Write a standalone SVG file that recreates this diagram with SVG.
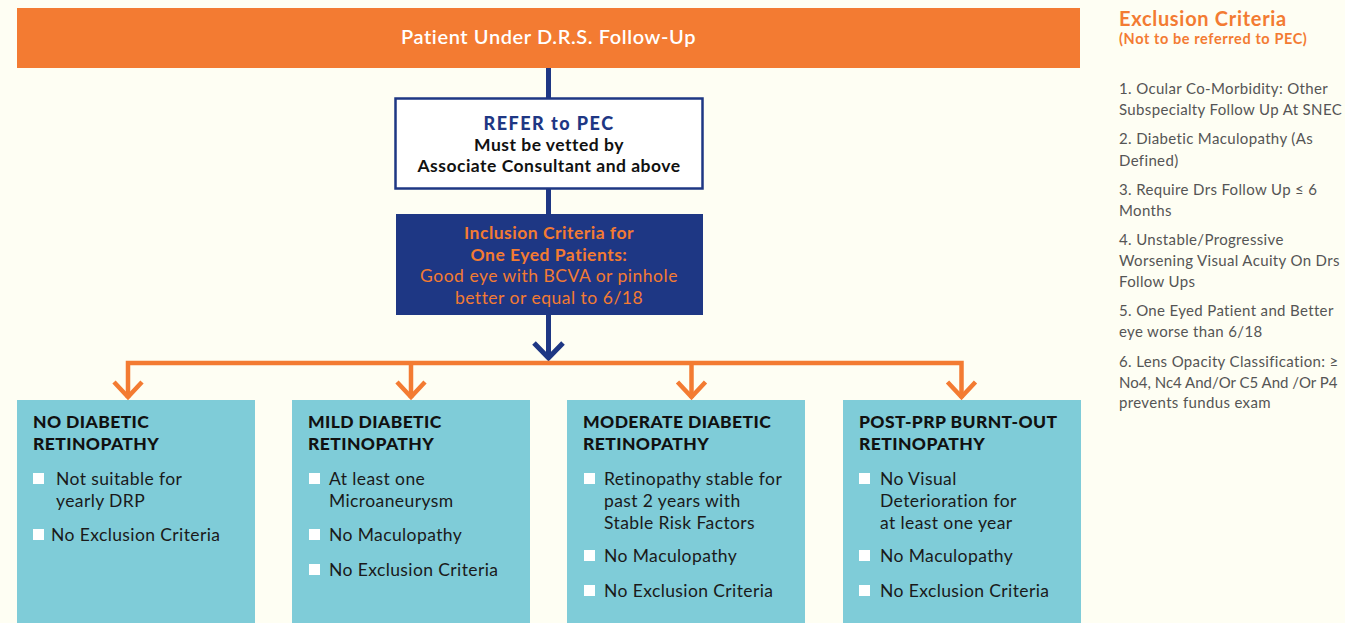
<svg xmlns="http://www.w3.org/2000/svg" width="1345" height="623" viewBox="0 0 1345 623">
<style>
text{font-family:Lato,"Open Sans","Liberation Sans",sans-serif;}
.hdr{fill:#fff;font-size:20px;font-weight:600;letter-spacing:0.6px;}
.refer{fill:#1E3784;font-size:18px;font-weight:900;letter-spacing:1.5px;}
.vet{fill:#111;font-size:17.5px;font-weight:700;letter-spacing:0.5px;}
.incb{fill:#F37B32;font-size:17.5px;font-weight:700;letter-spacing:0.5px;}
.inc{fill:#F37B32;font-size:17.5px;font-weight:400;letter-spacing:0.5px;}
.ttl{fill:#111;font-size:17.5px;font-weight:900;letter-spacing:0.4px;}
.itm{fill:#1a1a1a;font-size:17.5px;font-weight:400;letter-spacing:0.4px;}
.exh{fill:#F37B32;font-size:20px;font-weight:700;letter-spacing:0.7px;}
.exs{fill:#F37B32;font-size:14.5px;font-weight:700;letter-spacing:0.6px;}
.ex{fill:#555;font-size:15px;font-weight:400;letter-spacing:0.35px;}
.box{fill:#7FCCD8;}
.chk{fill:#fff;}
.ob{stroke:#F37B32;stroke-width:4.5;fill:none;}
.bl{stroke:#1E3784;stroke-width:5;fill:none;}
</style>
<rect width="1345" height="623" fill="#FEFEF3"/>
<g id="connectors">
<line class="bl" x1="548.5" y1="67" x2="548.5" y2="98"/>
<line class="bl" x1="548.5" y1="189" x2="548.5" y2="214"/>
<line class="bl" x1="548.5" y1="315" x2="548.5" y2="359"/>
<polyline class="bl" points="534,343 548.5,358 563,343"/>
<polyline class="ob" points="128,398 128,363 961.5,363 961.5,398"/>
<line class="ob" x1="411" y1="363" x2="411" y2="398"/>
<line class="ob" x1="691.5" y1="363" x2="691.5" y2="398"/>
<polyline class="ob" points="114,382 128,397 142,382"/>
<polyline class="ob" points="397,382 411,397 425,382"/>
<polyline class="ob" points="677.5,382 691.5,397 705.5,382"/>
<polyline class="ob" points="947.5,382 961.5,397 975.5,382"/>
</g>
<g id="top">
<rect x="17" y="8" width="1063" height="60" fill="#F37B32"/>
<text class="hdr" x="548.5" y="44" text-anchor="middle">Patient Under D.R.S. Follow-Up</text>
</g>
<g id="refer">
<rect x="395.5" y="98.5" width="307" height="90" fill="#fff" stroke="#1E3784" stroke-width="2.5"/>
<text class="refer" x="549" y="130" text-anchor="middle">REFER to PEC</text>
<text class="vet" x="549" y="151" text-anchor="middle">Must be vetted by</text>
<text class="vet" x="549" y="172" text-anchor="middle">Associate Consultant and above</text>
</g>
<g id="inclusion">
<rect x="396" y="214" width="307" height="101" fill="#1E3784"/>
<text class="incb" x="549" y="239" text-anchor="middle">Inclusion Criteria for</text>
<text class="incb" x="549" y="261" text-anchor="middle">One Eyed Patients:</text>
<text class="inc" x="549" y="282" text-anchor="middle">Good eye with BCVA or pinhole</text>
<text class="inc" x="549" y="304" text-anchor="middle">better or equal to 6/18</text>
</g>
<g id="no-dr">
<rect class="box" x="17" y="400" width="238" height="223"/>
<text class="ttl" x="33" y="428">NO DIABETIC</text>
<text class="ttl" x="33" y="450">RETINOPATHY</text>
<rect class="chk" x="33" y="473" width="11" height="11"/>
<text class="itm" x="56" y="485">Not suitable for</text>
<text class="itm" x="56" y="507">yearly DRP</text>
<rect class="chk" x="33" y="529" width="11" height="11"/>
<text class="itm" x="51" y="541">No Exclusion Criteria</text>
</g>
<g id="mild-dr">
<rect class="box" x="292" y="400" width="238" height="223"/>
<text class="ttl" x="308" y="428">MILD DIABETIC</text>
<text class="ttl" x="308" y="450">RETINOPATHY</text>
<rect class="chk" x="309" y="473" width="11" height="11"/>
<text class="itm" x="329" y="485">At least one</text>
<text class="itm" x="329" y="507">Microaneurysm</text>
<rect class="chk" x="309" y="529" width="11" height="11"/>
<text class="itm" x="329" y="541">No Maculopathy</text>
<rect class="chk" x="309" y="564" width="11" height="11"/>
<text class="itm" x="329" y="576">No Exclusion Criteria</text>
</g>
<g id="moderate-dr">
<rect class="box" x="567" y="400" width="238" height="223"/>
<text class="ttl" x="583" y="428">MODERATE DIABETIC</text>
<text class="ttl" x="583" y="450">RETINOPATHY</text>
<rect class="chk" x="584" y="473" width="11" height="11"/>
<text class="itm" x="604" y="485">Retinopathy stable for</text>
<text class="itm" x="604" y="507">past 2 years with</text>
<text class="itm" x="604" y="529">Stable Risk Factors</text>
<rect class="chk" x="584" y="550" width="11" height="11"/>
<text class="itm" x="604" y="562">No Maculopathy</text>
<rect class="chk" x="584" y="585" width="11" height="11"/>
<text class="itm" x="604" y="597">No Exclusion Criteria</text>
</g>
<g id="post-prp">
<rect class="box" x="843" y="400" width="238" height="223"/>
<text class="ttl" x="859" y="428">POST-PRP BURNT-OUT</text>
<text class="ttl" x="859" y="450">RETINOPATHY</text>
<rect class="chk" x="859" y="473" width="11" height="11"/>
<text class="itm" x="880" y="485">No Visual</text>
<text class="itm" x="880" y="507">Deterioration for</text>
<text class="itm" x="880" y="529">at least one year</text>
<rect class="chk" x="859" y="550" width="11" height="11"/>
<text class="itm" x="880" y="562">No Maculopathy</text>
<rect class="chk" x="859" y="585" width="11" height="11"/>
<text class="itm" x="880" y="597">No Exclusion Criteria</text>
</g>
<g id="exclusion">
<text class="exh" x="1119" y="26">Exclusion Criteria</text>
<text class="exs" x="1119" y="44">(Not to be referred to PEC)</text>
<text class="ex" x="1119" y="94">1. Ocular Co-Morbidity: Other</text>
<text class="ex" x="1119" y="115">Subspecialty Follow Up At SNEC</text>
<text class="ex" x="1119" y="144">2. Diabetic Maculopathy (As</text>
<text class="ex" x="1119" y="166">Defined)</text>
<text class="ex" x="1119" y="195">3. Require Drs Follow Up ≤ 6</text>
<text class="ex" x="1119" y="216">Months</text>
<text class="ex" x="1119" y="245">4. Unstable/Progressive</text>
<text class="ex" x="1119" y="266">Worsening Visual Acuity On Drs</text>
<text class="ex" x="1119" y="287">Follow Ups</text>
<text class="ex" x="1119" y="316">5. One Eyed Patient and Better</text>
<text class="ex" x="1119" y="337">eye worse than 6/18</text>
<text class="ex" x="1119" y="367">6. Lens Opacity Classification: ≥</text>
<text class="ex" x="1119" y="388" style="letter-spacing:0px">No4, Nc4 And/Or C5 And /Or P4</text>
<text class="ex" x="1119" y="408">prevents fundus exam</text>
</g>
</svg>
